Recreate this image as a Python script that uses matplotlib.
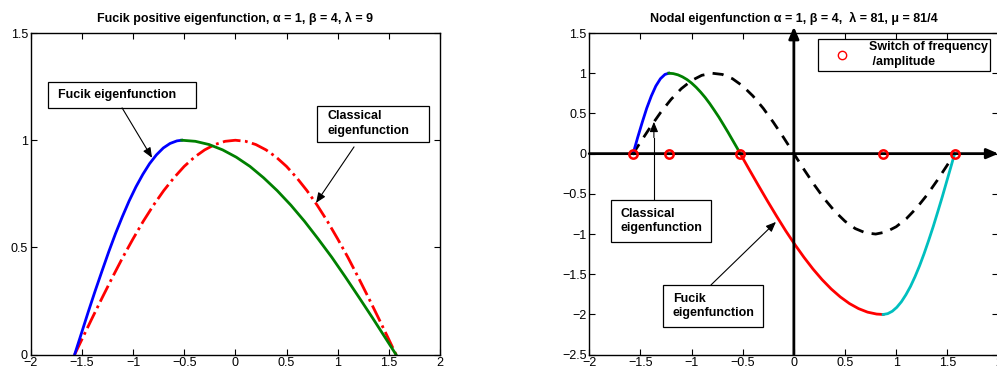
import numpy as np
import matplotlib.pyplot as plt
from matplotlib.patches import Rectangle

plt.rcParams['font.family'] = ['Liberation Sans', 'DejaVu Sans']

# ---- left panel data ----
blue1_x = [-1.571, -1.504, -1.438, -1.371, -1.304, -1.238, -1.171, -1.104, -1.038,
           -0.971, -0.904, -0.838, -0.771, -0.704, -0.638, -0.571, -0.524]
blue1_y = [0, 0.100, 0.199, 0.296, 0.389, 0.479, 0.565, 0.644, 0.717,
           0.783, 0.841, 0.891, 0.932, 0.964, 0.985, 0.997, 1.0]
green1_x = [-0.524, -0.391, -0.257, -0.124, 0.009, 0.143, 0.276, 0.409, 0.543,
            0.676, 0.809, 0.943, 1.076, 1.209, 1.343, 1.476, 1.571]
green1_y = [1, 0.995, 0.980, 0.955, 0.921, 0.878, 0.825, 0.765, 0.697,
            0.622, 0.540, 0.454, 0.362, 0.267, 0.170, 0.071, 0]
class1_x = [-1.571, -1.5, -1.4, -1.3, -1.2, -1.1, -1.0, -0.9, -0.8, -0.7, -0.6, -0.5, -0.4, -0.3, -0.2, -0.1, 0,
            0.1, 0.2, 0.3, 0.4, 0.5, 0.6, 0.7, 0.8, 0.9, 1.0, 1.1, 1.2, 1.3, 1.4, 1.5, 1.571]
class1_y = [0, 0.071, 0.170, 0.267, 0.362, 0.454, 0.540, 0.622, 0.697, 0.765, 0.825, 0.878, 0.921, 0.955, 0.980, 0.995, 1,
            0.995, 0.980, 0.955, 0.921, 0.878, 0.825, 0.765, 0.697, 0.622, 0.540, 0.454, 0.362, 0.267, 0.170, 0.071, 0]

# ---- right panel data ----
blue2_x = [-1.571, -1.527, -1.482, -1.438, -1.393, -1.349, -1.304, -1.260, -1.222]
blue2_y = [0, 0.199, 0.389, 0.565, 0.717, 0.841, 0.932, 0.985, 1.0]
green2_x = [-1.222, -1.178, -1.133, -1.089, -1.044, -1.000, -0.955, -0.911, -0.866,
            -0.822, -0.778, -0.733, -0.689, -0.644, -0.600, -0.555, -0.524]
green2_y = [1, 0.995, 0.980, 0.955, 0.921, 0.878, 0.825, 0.765, 0.697,
            0.622, 0.540, 0.454, 0.362, 0.267, 0.170, 0.071, 0]
red2_x = [-0.524, -0.435, -0.346, -0.257, -0.168, -0.080, 0.009, 0.098, 0.187,
          0.276, 0.365, 0.454, 0.543, 0.632, 0.720, 0.809, 0.873]
red2_y = [0, -0.200, -0.397, -0.591, -0.779, -0.959, -1.129, -1.288, -1.435,
          -1.567, -1.683, -1.782, -1.864, -1.927, -1.971, -1.995, -2.0]
cyan2_x = [0.873, 0.917, 0.962, 1.006, 1.051, 1.095, 1.140, 1.184, 1.229,
           1.273, 1.317, 1.362, 1.406, 1.451, 1.495, 1.540, 1.571]
cyan2_y = [-2, -1.990, -1.960, -1.911, -1.842, -1.755, -1.651, -1.530, -1.393,
           -1.243, -1.081, -0.907, -0.725, -0.535, -0.340, -0.141, 0]
class2_x = [-1.571, -1.5, -1.4, -1.3, -1.2, -1.1, -1.0, -0.9, -0.8, -0.7, -0.6, -0.5, -0.4, -0.3, -0.2, -0.1, 0,
            0.1, 0.2, 0.3, 0.4, 0.5, 0.6, 0.7, 0.8, 0.9, 1.0, 1.1, 1.2, 1.3, 1.4, 1.5, 1.571]
class2_y = [0, 0.141, 0.335, 0.516, 0.675, 0.808, 0.909, 0.974, 1.0, 0.985, 0.932, 0.841, 0.717, 0.565, 0.389, 0.199, 0,
            -0.199, -0.389, -0.565, -0.717, -0.841, -0.932, -0.985, -1.0, -0.974, -0.909, -0.808, -0.675, -0.516, -0.335, -0.141, 0]
switch_x = [-1.571, -1.222, -0.524, 0.873, 1.571]
switch_y = [0, 0, 0, 0, 0]

xticks = [-2, -1.5, -1, -0.5, 0, 0.5, 1, 1.5, 2]
xticklabels = ['\u22122', '\u22121.5', '\u22121', '\u22120.5', '0', '0.5', '1', '1.5', '2']
yticks1 = [0, 0.5, 1, 1.5]
yticklabels1 = ['0', '0.5', '1', '1.5']
yticks2 = [-2.5, -2, -1.5, -1, -0.5, 0, 0.5, 1, 1.5]
yticklabels2 = ['\u22122.5', '\u22122', '\u22121.5', '\u22121', '\u22120.5', '0', '0.5', '1', '1.5']

fig = plt.figure(figsize=(9.97, 3.71), dpi=100)
ax1 = fig.add_axes([0.0308, 0.044, 0.4105, 0.867])
ax2 = fig.add_axes([0.591, 0.044, 0.4105, 0.867])

def style(ax, yt, ytl, ylim):
    ax.set_xlim(-2, 2)
    ax.set_ylim(*ylim)
    ax.set_xticks(xticks)
    ax.set_xticklabels(xticklabels)
    ax.set_yticks(yt)
    ax.set_yticklabels(ytl)
    ax.tick_params(direction='in', top=True, right=True, labelsize=9, length=4, width=0.8, pad=2)
    for s in ax.spines.values():
        s.set_linewidth(1.0)

def box(ax, x0, y0, x1, y1, text, tx):
    ax.add_patch(Rectangle((x0, y0), x1 - x0, y1 - y0, facecolor='white',
                           edgecolor='black', lw=0.9, zorder=5))
    ax.text(tx, (y0 + y1) / 2, text, ha='left', va='center', fontsize=9,
            fontweight='bold', zorder=6, linespacing=1.3)

def arrow(ax, start, tip):
    ax.annotate('', xy=tip, xytext=start, zorder=7,
                arrowprops=dict(arrowstyle='-|>,head_length=0.6,head_width=0.25',
                                color='black', lw=0.8, shrinkA=0, shrinkB=0))

# ---- left panel ----
ax1.plot(class1_x, class1_y, color='red', ls='-.', lw=2)
ax1.plot(blue1_x, blue1_y, color='blue', lw=2)
ax1.plot(green1_x, green1_y, color='green', lw=2)
style(ax1, yticks1, yticklabels1, (0, 1.5))
ax1.set_title('Fucik positive eigenfunction, \u03b1 = 1, \u03b2 = 4, \u03bb = 9',
              fontsize=9, fontweight='bold', pad=8)
box(ax1, -1.831, 1.151, -0.384, 1.273, 'Fucik eigenfunction', -1.733)
arrow(ax1, (-1.107, 1.151), (-0.814, 0.918))
box(ax1, 0.799, 0.993, 1.893, 1.160, 'Classical\neigenfunction', 0.897)
arrow(ax1, (1.160, 0.969), (0.789, 0.708))

# ---- right panel ----
ax2.annotate('', xy=(2.0, 0), xytext=(-2, 0), annotation_clip=False,
             arrowprops=dict(arrowstyle='-|>,head_length=0.7,head_width=0.3',
                             color='black', lw=2, shrinkA=0, shrinkB=0))
ax2.annotate('', xy=(0, 1.578), xytext=(0, -2.5), annotation_clip=False,
             arrowprops=dict(arrowstyle='-|>,head_length=0.7,head_width=0.3',
                             color='black', lw=2, shrinkA=0, shrinkB=0))
ax2.plot(class2_x, class2_y, color='black', ls='--', lw=2, dashes=(4, 3))
ax2.plot(blue2_x, blue2_y, color='blue', lw=2)
ax2.plot(green2_x, green2_y, color='green', lw=2)
ax2.plot(red2_x, red2_y, color='red', lw=2)
ax2.plot(cyan2_x, cyan2_y, color='c', lw=2)
ax2.plot(switch_x, switch_y, 'o', mfc='none', mec='red', mew=1.8, ms=6, zorder=4,
         label='Switch of frequency\n /amplitude')
style(ax2, yticks2, yticklabels2, (-2.5, 1.5))
ax2.set_title('Nodal eigenfunction \u03b1 = 1, \u03b2 = 4,  \u03bb = 81, \u03bc = 81/4',
              fontsize=9, fontweight='bold', pad=8)
leg = ax2.legend(loc='upper right', bbox_to_anchor=(0.98, 0.982), fancybox=False,
                 edgecolor='black', framealpha=1, borderaxespad=0, handletextpad=0.45,
                 prop={'size': 9, 'weight': 'bold'}, borderpad=0.2, handlelength=3.4)
leg.get_frame().set_linewidth(0.9)
leg.set_zorder(8)
leg.legend_handles[0].set_markeredgewidth(1.0)
leg.get_texts()[0].set_linespacing(1.3)
box(ax2, -1.788, -1.098, -0.811, -0.575, 'Classical\neigenfunction', -1.690)
ax2.plot([-1.368, -1.368], [-0.575, 0.2], color='black', lw=0.8)
arrow(ax2, (-1.368, 0.2), (-1.368, 0.396))
box(ax2, -1.280, -2.156, -0.302, -1.633, 'Fucik\neigenfunction', -1.182)
arrow(ax2, (-0.810, -1.633), (-0.175, -0.849))

fig.savefig('out.png', dpi=100)
